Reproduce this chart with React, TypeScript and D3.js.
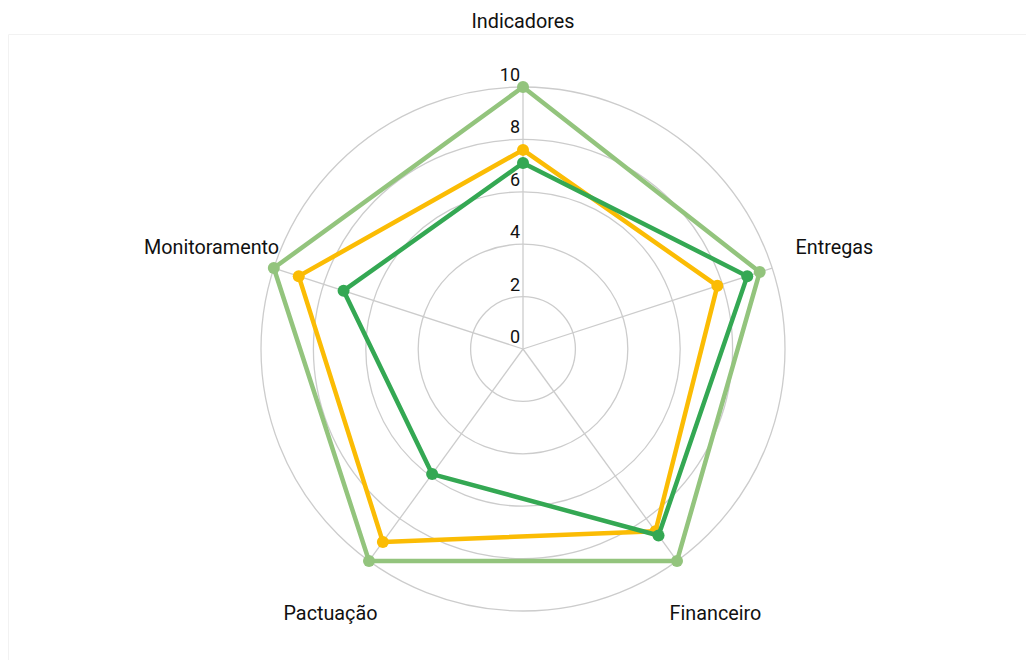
import React, { useEffect, useRef } from "react";
import * as d3 from "d3";

const axes = ["Indicadores", "Entregas", "Financeiro", "Pactuação", "Monitoramento"];
const ringTicks = [2, 4, 6, 8, 10];
const tickLabels = [0, 2, 4, 6, 8, 10];

const seriesLight = [10, 9.5, 10, 10, 10];
const seriesYellow = [7.6, 7.8, 8.6, 9.1, 9.0];
const seriesDark = [7.1, 9.0, 8.8, 5.9, 7.2];

const series = [
  { name: "light", color: "#93c47d", values: seriesLight },
  { name: "yellow", color: "#fbbc04", values: seriesYellow },
  { name: "dark", color: "#34a853", values: seriesDark },
];

export default function App() {
  const ref = useRef<SVGSVGElement | null>(null);

  useEffect(() => {
    if (!ref.current) return;
    const svg = d3.select(ref.current);
    svg.selectAll("*").remove();

    const width = 1026;
    const height = 660;
    const cx = 523;
    const cy = 349;
    const R = 262;

    // faint frame
    svg.append("path")
      .attr("d", `M8.5,${height} L8.5,34.5 L${width},34.5`)
      .attr("fill", "none")
      .attr("stroke", "#f2f2f2")
      .attr("stroke-width", 1);

    const r = d3.scaleLinear().domain([0, 10]).range([0, R]);
    const angle = d3.scaleBand<string>().domain(axes).range([0, 2 * Math.PI]);

    const g = svg.append("g").attr("transform", `translate(${cx},${cy})`);

    g.selectAll("circle.ring")
      .data(ringTicks)
      .join("circle")
      .attr("class", "ring")
      .attr("r", d => r(d))
      .attr("fill", "none")
      .attr("stroke", "#cccccc")
      .attr("stroke-width", 1.3);

    g.selectAll("line.spoke")
      .data(axes)
      .join("line")
      .attr("class", "spoke")
      .attr("x1", 0)
      .attr("y1", 0)
      .attr("x2", d => Math.sin(angle(d)!) * R)
      .attr("y2", d => -Math.cos(angle(d)!) * R)
      .attr("stroke", "#cccccc")
      .attr("stroke-width", 1.3);

    const line = d3.lineRadial<number>()
      .angle((_, i) => angle(axes[i])!)
      .radius(d => r(d))
      .curve(d3.curveLinearClosed);

    series.forEach(s => {
      g.append("path")
        .datum(s.values)
        .attr("d", line)
        .attr("fill", "none")
        .attr("stroke", s.color)
        .attr("stroke-width", 4.5)
        .attr("stroke-linejoin", "round");

      g.selectAll(`circle.pt-${s.name}`)
        .data(s.values)
        .join("circle")
        .attr("class", `pt-${s.name}`)
        .attr("cx", (d, i) => Math.sin(angle(axes[i])!) * r(d))
        .attr("cy", (d, i) => -Math.cos(angle(axes[i])!) * r(d))
        .attr("r", 6)
        .attr("fill", s.color);
    });

    g.selectAll("text.tick")
      .data(tickLabels)
      .join("text")
      .attr("class", "tick")
      .attr("x", -3)
      .attr("y", d => -r(d) - 6)
      .attr("text-anchor", "end")
      .attr("font-family", "Roboto")
      .attr("font-size", 18)
      .attr("fill", "#111")
      .text(d => d);

    g.selectAll("text.axis")
      .data(axes)
      .join("text")
      .attr("class", "axis")
      .attr("x", d => Math.sin(angle(d)!) * R * 1.25)
      .attr("y", d => -Math.cos(angle(d)!) * R * 1.25)
      .attr("text-anchor", "middle")
      .attr("dominant-baseline", "central")
      .attr("font-family", "Roboto")
      .attr("font-size", 19.8)
      .attr("fill", "#111")
      .text(d => d);
  }, []);

  return (
    <svg
      ref={ref}
      width="1026"
      height="660"
      style={{ position: "absolute", left: 0, top: 0, display: "block", background: "#fff" }}
    ></svg>
  );
}
